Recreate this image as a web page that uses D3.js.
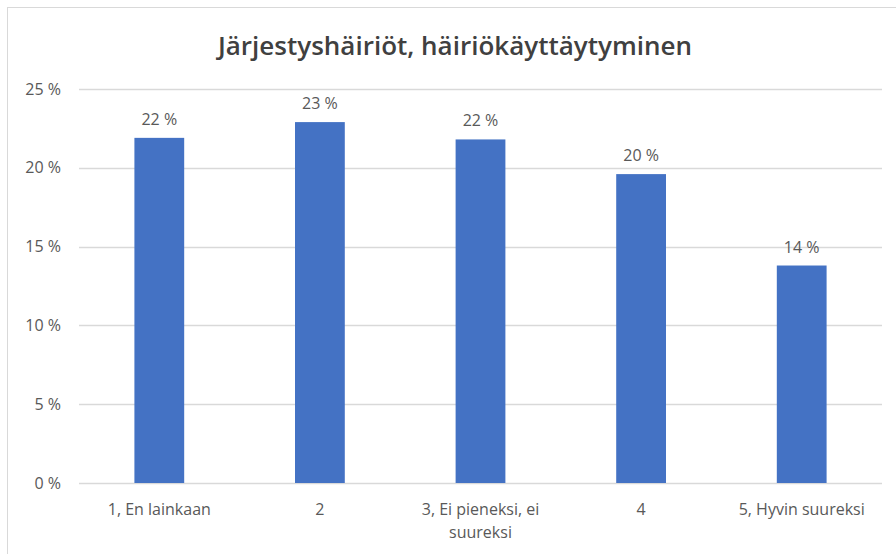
<!DOCTYPE html>
<html>
<head>
<meta charset="utf-8">
<script src="https://cdn.jsdelivr.net/npm/d3@7"></script>
<style>
  body { margin: 0; background: #fff; }
  svg { display: block; font-family: "Open Sans", Lato, sans-serif; }
</style>
</head>
<body>
<svg></svg>
<script>
let categories = ["1, En lainkaan", "2", "3, Ei pieneksi, ei suureksi", "4", "5, Hyvin suureksi"];
let values = [21.9, 22.9, 21.8, 19.6, 13.8];
let yTicks = [0, 5, 10, 15, 20, 25];
let title = "Järjestyshäiriöt, häiriökäyttäytyminen";

let width = 896;
let height = 554;
let margin = { top: 89, right: 14, bottom: 71, left: 79 };

let svg = d3.select("svg")
            .attr("width", width)
            .attr("height", height);

// chart frame (cut off at right and bottom like the screenshot)
svg.append("rect")
   .attr("x", 7.5)
   .attr("y", 7.5)
   .attr("width", width + 20)
   .attr("height", height + 20)
   .attr("fill", "none")
   .attr("stroke", "#d9d9d9");

let xScale = d3.scaleBand()
               .domain(categories)
               .range([margin.left, width - margin.right])
               .paddingInner(0.69)
               .paddingOuter(0.345);

let yScale = d3.scaleLinear()
               .domain([0, 25])
               .range([height - margin.bottom, margin.top]);

// gridlines
svg.append("g")
   .selectAll("line")
   .data(yTicks)
   .enter()
   .append("line")
   .attr("x1", margin.left)
   .attr("x2", width - margin.right)
   .attr("y1", d => Math.round(yScale(d)) + 0.5)
   .attr("y2", d => Math.round(yScale(d)) + 0.5)
   .attr("stroke", "#d9d9d9")
   .attr("stroke-width", 1.3);

// y axis labels
let yAxis = d3.axisLeft(yScale)
              .tickValues(yTicks)
              .tickSize(0)
              .tickPadding(18)
              .tickFormat(d => d + " %");

svg.append("g")
   .attr("transform", `translate(${margin.left}, 0)`)
   .call(yAxis)
   .call(g => g.select(".domain").remove())
   .selectAll("text")
   .attr("font-size", 16)
   .attr("font-family", "'Open Sans', sans-serif")
   .attr("fill", "#595959");

// bars
svg.selectAll(".bar")
   .data(values)
   .enter()
   .append("rect")
   .attr("class", "bar")
   .attr("x", (d, i) => xScale(categories[i]))
   .attr("y", d => yScale(d))
   .attr("width", xScale.bandwidth())
   .attr("height", d => yScale(0) - yScale(d))
   .attr("fill", "#4472c4");

// value labels
svg.selectAll(".val")
   .data(values)
   .enter()
   .append("text")
   .attr("class", "val")
   .attr("x", (d, i) => xScale(categories[i]) + xScale.bandwidth() / 2)
   .attr("y", d => yScale(d) - 13)
   .attr("text-anchor", "middle")
   .attr("font-size", 16)
   .attr("fill", "#595959")
   .text(d => Math.round(d) + " %");

// x axis labels, wrapped the way the original wraps them
let xLines = {
    "3, Ei pieneksi, ei suureksi": ["3, Ei pieneksi, ei", "suureksi"]
};

let xLabels = svg.selectAll(".xlab")
                 .data(categories)
                 .enter()
                 .append("text")
                 .attr("class", "xlab")
                 .attr("text-anchor", "middle")
                 .attr("font-size", 16)
                 .attr("fill", "#595959");

xLabels.each(function (d) {
    let lines = xLines[d] || [d];
    let t = d3.select(this);
    lines.forEach((line, j) => {
        t.append("tspan")
         .attr("x", xScale(d) + xScale.bandwidth() / 2)
         .attr("y", height - margin.bottom + 32 + j * 23)
         .text(line);
    });
});

// title
svg.append("text")
   .attr("x", 455)
   .attr("y", 55)
   .attr("text-anchor", "middle")
   .attr("font-size", 26)
   .attr("font-weight", 600)
   .attr("fill", "#404040")
   .text(title);
</script>
</body>
</html>
